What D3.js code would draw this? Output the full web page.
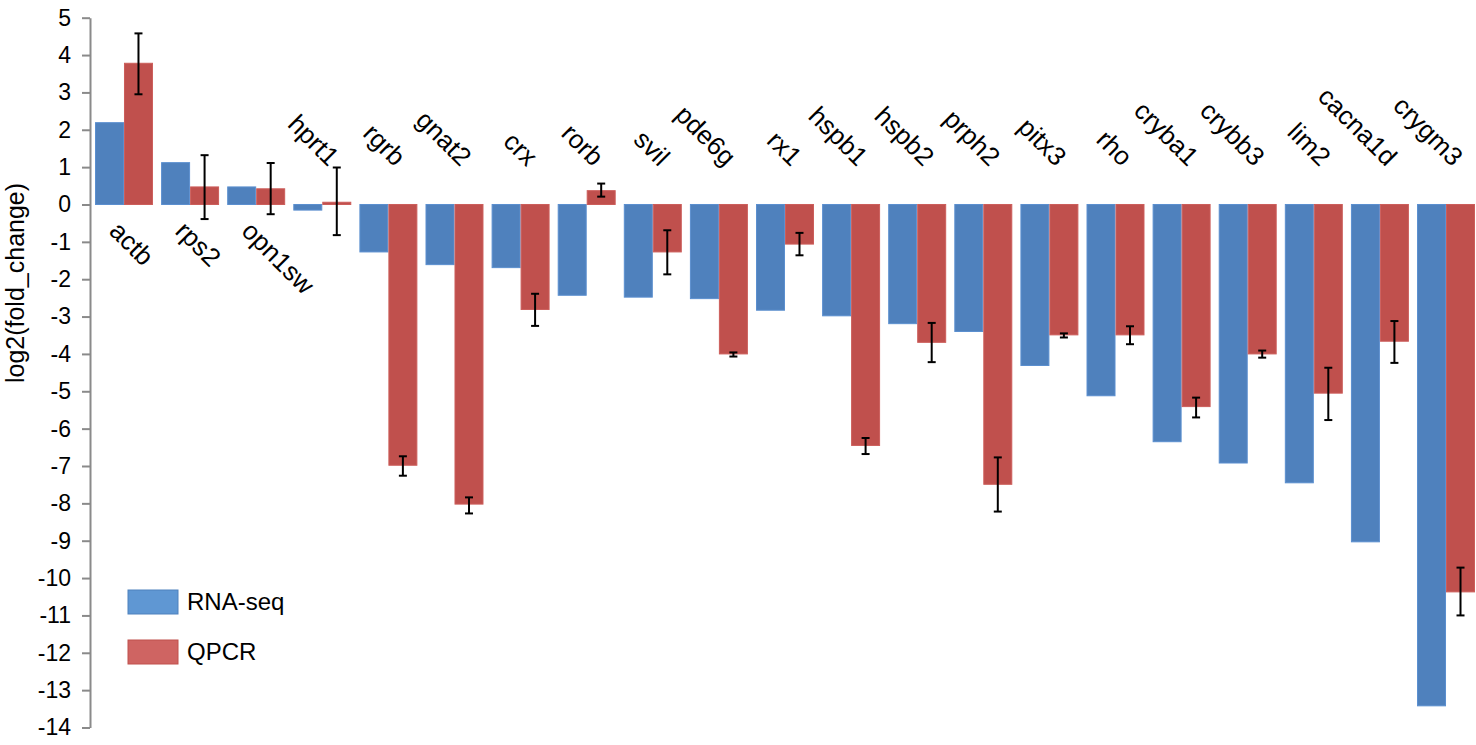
<!DOCTYPE html>
<html>
<head>
<meta charset="utf-8">
<script src="https://cdn.jsdelivr.net/npm/d3@7"></script>
<style>
  html, body { margin: 0; padding: 0; background: #fff; }
  svg { display: block; font-family: "Liberation Sans", Arial, Helvetica, sans-serif; }
</style>
</head>
<body>
<svg id="chart" width="1476" height="745"></svg>
<script>
const genes = ["actb","rps2","opn1sw","hprt1","rgrb","gnat2","crx","rorb","svil","pde6g","rx1","hspb1","hspb2","prph2","pitx3","rho","cryba1","crybb3","lim2","cacna1d","crygm3"];
const seriesNames = ["RNA-seq", "QPCR"];
const rnaSeq = [2.19, 1.12, 0.47, -0.15, -1.27, -1.61, -1.69, -2.43, -2.48, -2.52, -2.83, -2.98, -3.19, -3.40, -4.31, -5.12, -6.35, -6.92, -7.45, -9.03, -13.42];
const qpcr = [3.78, 0.47, 0.42, 0.06, -6.98, -8.02, -2.81, 0.37, -1.27, -4.00, -1.06, -6.45, -3.69, -7.49, -3.49, -3.49, -5.41, -4.00, -5.05, -3.66, -10.37];
const qpcrErrHigh = [4.58, 1.32, 1.11, 0.99, -6.74, -7.84, -2.39, 0.56, -0.69, -3.96, -0.76, -6.25, -3.17, -6.77, -3.45, -3.26, -5.17, -3.91, -4.37, -3.12, -9.72];
const qpcrErrLow = [2.95, -0.39, -0.26, -0.82, -7.26, -8.27, -3.25, 0.21, -1.87, -4.07, -1.36, -6.68, -4.22, -8.22, -3.56, -3.74, -5.70, -4.10, -5.77, -4.24, -11.00];
const yTicks = [5,4,3,2,1,0,-1,-2,-3,-4,-5,-6,-7,-8,-9,-10,-11,-12,-13,-14];
const yTitle = "log2(fold_change)";

const barColors = ["#4F81BD", "#C0504D"];
const barStrokes = ["#5B8FCF", "#CC5E5B"];
const legendFill = ["#5F97D3", "#CF6462"];

const svg = d3.select("#chart");

const y = d3.scaleLinear().domain([-14, 5]).range([727.5, 17.7]);
const x0 = d3.scaleBand().domain(genes).range([95, 1475]).paddingInner(0.123).paddingOuter(0);
const x1 = d3.scaleBand().domain(seriesNames).range([0, x0.bandwidth()]);

const rows = genes.map((g, i) => ({
  gene: g, i,
  vals: [rnaSeq[i], qpcr[i]],
  hi: qpcrErrHigh[i], lo: qpcrErrLow[i]
}));

// y axis
const axis = d3.axisLeft(y).tickValues(yTicks).tickSize(8).tickSizeOuter(0).tickPadding(11)
  .tickFormat(d => String(d));
const gAxis = svg.append("g").attr("transform", "translate(90,0)").call(axis);
gAxis.select(".domain").attr("stroke", "#8a8a8a").attr("stroke-width", 2);
gAxis.selectAll(".tick line").attr("stroke", "#8a8a8a").attr("stroke-width", 2);
gAxis.selectAll(".tick text").attr("fill", "#000").attr("font-size", 23)
  .style("font-family", "'Liberation Sans', Arial, sans-serif");

// y title
svg.append("text")
  .attr("transform", `translate(24,283) rotate(-90)`)
  .attr("text-anchor", "middle")
  .attr("font-size", 25)
  .attr("fill", "#000")
  .text(yTitle);

// bars
const groups = svg.append("g").selectAll("g").data(rows).join("g")
  .attr("transform", d => `translate(${x0(d.gene)},0)`);

groups.selectAll("rect").data(d => d.vals.map((v, k) => ({v, k}))).join("rect")
  .attr("x", d => x1(seriesNames[d.k]) + 0.5)
  .attr("width", x1.bandwidth() - 1)
  .attr("y", d => Math.min(y(d.v), y(0)))
  .attr("height", d => Math.abs(y(d.v) - y(0)))
  .attr("fill", d => barColors[d.k])
  .attr("stroke", d => barStrokes[d.k])
  .attr("stroke-width", 1);

// error bars on QPCR
const cap = 4;
const eb = groups.append("g")
  .attr("transform", `translate(${x1("QPCR") + x1.bandwidth()/2},0)`)
  .attr("stroke", "#000").attr("stroke-width", 2);
eb.append("line").attr("x1", 0).attr("x2", 0).attr("y1", d => y(d.hi)).attr("y2", d => y(d.lo));
eb.append("line").attr("x1", -cap).attr("x2", cap).attr("y1", d => y(d.hi)).attr("y2", d => y(d.hi));
eb.append("line").attr("x1", -cap).attr("x2", cap).attr("y1", d => y(d.lo)).attr("y2", d => y(d.lo));

// category labels
svg.append("g").selectAll("text").data(rows).join("text")
  .attr("font-size", 26)
  .attr("fill", "#000")
  .attr("text-anchor", d => d.vals[0] > 0 ? "start" : "end")
  .attr("transform", d => {
    const cx = x0(d.gene) + x0.bandwidth() / 2;
    return d.vals[0] > 0
      ? `translate(${cx - 16},${y(0) + 28}) rotate(45)`
      : `translate(${cx + 6},${y(0) - 37}) rotate(45)`;
  })
  .text(d => d.gene);

// legend
const legend = svg.append("g");
seriesNames.forEach((s, k) => {
  const top = 590 + k * 50;
  legend.append("rect").attr("x", 128).attr("y", top).attr("width", 50).attr("height", 24)
    .attr("fill", legendFill[k]).attr("stroke", barColors[k]).attr("stroke-width", 1);
  legend.append("text").attr("x", 187).attr("y", top + 20).attr("font-size", 24).attr("fill", "#000").text(s);
});
</script>
</body>
</html>
